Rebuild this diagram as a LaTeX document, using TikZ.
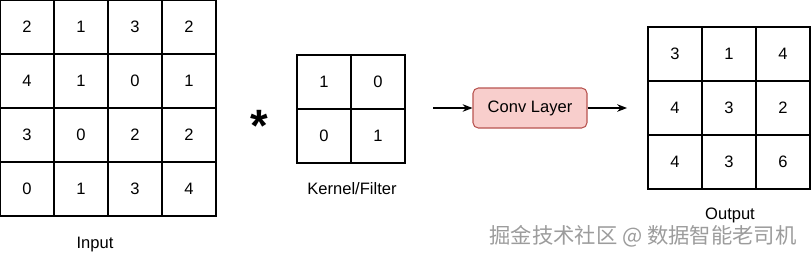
\documentclass[tikz,border=0pt]{standalone}
\usepackage{fontspec}
\setmainfont{Liberation Sans}
\newfontfamily\cjkfont{Noto Sans CJK SC}
\usetikzlibrary{arrows.meta,positioning}
\definecolor{convfill}{HTML}{F8CECC}
\definecolor{convdraw}{HTML}{B85450}
\definecolor{wmgrey}{HTML}{9C9C9C}

\begin{document}
\begin{tikzpicture}[
        x=0.75pt, y=-0.75pt,
        font=\fontsize{12.4}{14}\selectfont,
        cell/.style={draw=black, line width=1.1pt, minimum width=54*0.75pt,
                     minimum height=54*0.75pt, inner sep=0pt},
        conv/.style={draw=convdraw, fill=convfill, rounded corners=4pt,
                     line width=0.8pt, minimum width=114*0.75pt,
                     minimum height=40*0.75pt},
        lbl/.style={inner sep=0pt},
        arr/.style={-{Stealth[length=2.6mm, width=2mm]}, line width=0.9pt}
    ]
        \useasboundingbox (0,0) rectangle (812,258);

        \foreach \row [count=\i from 0] in {{2,1,3,2},{4,1,0,1},{3,0,2,2},{0,1,3,4}}
            \foreach \v [count=\j from 0] in \row
                \node[cell] (in-\i-\j) at (27+54*\j, 27+54*\i) {\v};
        \node[lbl] (inlbl) at (95,245) {Input};

        \node[lbl] (star) at (259,112) {\fontsize{34}{34}\selectfont\bfseries\raisebox{-2.5ex}{*}};

        \foreach \row [count=\i from 0] in {{1,0},{0,1}}
            \foreach \v [count=\j from 0] in \row
                \node[cell] (k-\i-\j) at (324+54*\j, 82+54*\i) {\v};
        \node[lbl] (klbl) at (352,189) {Kernel/Filter};

        \node[conv] (layer) at (530,108) {Conv Layer};
        \coordinate (src) at (433,108);
        \coordinate (dst) at (627,108);
        \draw[arr] (src) -- (layer.west);
        \draw[arr] (layer.east) -- (dst);

        \foreach \row [count=\i from 0] in {{3,1,4},{4,3,2},{4,3,6}}
            \foreach \v [count=\j from 0] in \row
                \node[cell] (out-\i-\j) at (675+54*\j, 54+54*\i) {\v};
        \node[lbl] (outlbl) at (730,215) {Output};

        \node[lbl, text=wmgrey] (mark) at (643,236)
            {\fontsize{16}{18}\selectfont\cjkfont 掘金技术社区 @ 数据智能老司机};
    \end{tikzpicture}
\end{document}
